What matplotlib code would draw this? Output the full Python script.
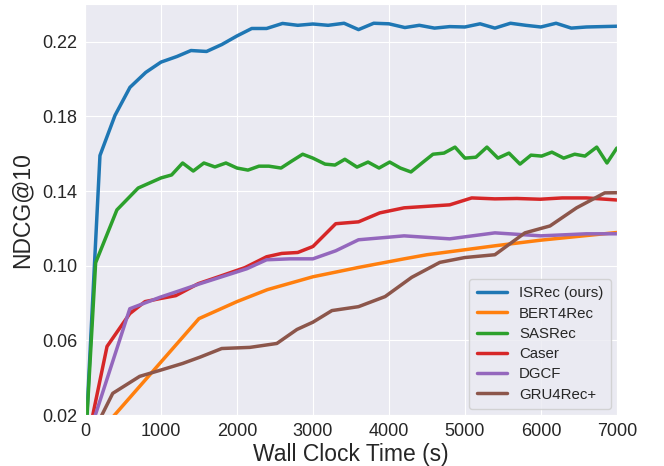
import numpy as np
import matplotlib
matplotlib.use('Agg')
import matplotlib.pyplot as plt
import seaborn as sns

# Tiempos (s) y NDCG@10 de cada modelo
isrec_t = [0, 197, 395, 592, 800, 1000, 1210, 1395, 1600, 1800, 2000, 2195,
           2390, 2600, 2800, 3000, 3200, 3410, 3600, 3800, 4000, 4210, 4400,
           4600, 4800, 5000, 5200, 5395, 5600, 5800, 6000, 6200, 6400, 6600,
           6800, 7000]
isrec_v = [0.0, 0.159, 0.1805, 0.1955, 0.2035, 0.209, 0.212, 0.2152, 0.2147,
           0.2184, 0.223, 0.227, 0.227, 0.2297, 0.2287, 0.2294, 0.2287,
           0.2298, 0.2264, 0.2298, 0.2295, 0.2275, 0.2287, 0.2272, 0.228,
           0.2278, 0.2295, 0.2272, 0.2298, 0.2287, 0.2278, 0.2298, 0.2272,
           0.2278, 0.228, 0.2282]

bert_t = [0, 1500, 2000, 2400, 3000, 3600, 4200, 4500, 5400, 6000, 7000]
bert_v = [0.002, 0.0717, 0.0808, 0.0872, 0.0941, 0.0991, 0.1037, 0.1059,
          0.1107, 0.1137, 0.1178]

sas_t = [0, 140, 420, 700, 1000, 1140, 1285, 1425, 1565, 1710, 1855, 2000,
         2145, 2290, 2420, 2580, 2720, 2865, 3000, 3160, 3290, 3420, 3580,
         3725, 3870, 4010, 4150, 4290, 4435, 4580, 4725, 4870, 5000, 5145,
         5290, 5435, 5580, 5725, 5870, 6010, 6145, 6300, 6445, 6580, 6735,
         6870, 7000]
sas_v = [0.0, 0.1016, 0.1299, 0.1416, 0.147, 0.1486, 0.155, 0.1507, 0.155,
         0.1529, 0.155, 0.1523, 0.1512, 0.1533, 0.1533, 0.1523, 0.156,
         0.1597, 0.1576, 0.1544, 0.1539, 0.157, 0.1528, 0.1555, 0.1523,
         0.1555, 0.1523, 0.1502, 0.155, 0.1597, 0.1603, 0.1635, 0.1576,
         0.1581, 0.1635, 0.1576, 0.1603, 0.1544, 0.1592, 0.1587, 0.1608,
         0.1576, 0.1597, 0.1587, 0.1635, 0.155, 0.163]

caser_t = [0, 290, 590, 790, 985, 1195, 1490, 1800, 2105, 2390, 2590, 2800,
           3000, 3300, 3600, 3880, 4200, 4800, 5090, 5395, 5685, 5990, 6280,
           6600, 7000]
caser_v = [0.0, 0.0568, 0.0744, 0.0808, 0.0824, 0.084, 0.0904, 0.0947,
           0.099, 0.1048, 0.1066, 0.1071, 0.1103, 0.1225, 0.1235, 0.1283,
           0.131, 0.1326, 0.1363, 0.1358, 0.136, 0.1356, 0.1363, 0.1363,
           0.1352]

dgcf_t = [0, 590, 985, 1250, 1515, 1800, 2130, 2390, 2700, 3000, 3300, 3600,
          4200, 4800, 5395, 6000, 6600, 7000]
dgcf_v = [0.003, 0.077, 0.0831, 0.0867, 0.0904, 0.0941, 0.0984, 0.1032,
          0.1037, 0.1037, 0.108, 0.1139, 0.116, 0.1144, 0.1176, 0.116,
          0.1171, 0.1171]

gru_t = [0, 365, 720, 985, 1285, 1515, 1800, 2170, 2525, 2790, 3000, 3250,
         3600, 3950, 4300, 4670, 5000, 5395, 5790, 6120, 6470, 6840, 7000]
gru_v = [0.002, 0.0317, 0.0408, 0.044, 0.0477, 0.0511, 0.0557, 0.0563,
         0.0584, 0.0659, 0.0698, 0.076, 0.0781, 0.0835, 0.0938, 0.1018,
         0.1044, 0.1059, 0.1176, 0.1213, 0.131, 0.139, 0.1391]

series = [('ISRec (ours)', isrec_t, isrec_v),
          ('BERT4Rec', bert_t, bert_v),
          ('SASRec', sas_t, sas_v),
          ('Caser', caser_t, caser_v),
          ('DGCF', dgcf_t, dgcf_v),
          ('GRU4Rec+', gru_t, gru_v)]
colores = ['#1f77b4', '#ff7f0e', '#2ca02c', '#d62728', '#9467bd', '#8c564b']

sns.set_style('darkgrid')
plt.rcParams['font.family'] = ['Liberation Sans', 'DejaVu Sans']

fig = plt.figure(figsize=(6.64, 4.66), dpi=100)
ax = fig.add_axes([0.128, 0.109, 0.801, 0.882])

for (nombre, t, v), c in zip(series, colores):
    ax.plot(t, v, color=c, lw=2.5, label=nombre)

ax.set_xlim(0, 7000)
ax.set_ylim(0.02, 0.24)
ax.set_xticks(np.arange(0, 7001, 1000))
ax.set_yticks([0.02, 0.06, 0.10, 0.14, 0.18, 0.22])
ax.set_yticklabels(['0.02', '0.06', '0.10', '0.14', '0.18', '0.22'])
ax.tick_params(labelsize=13, pad=2)
ax.set_xlabel('Wall Clock Time (s)', fontsize=16.5, labelpad=2)
ax.set_ylabel('NDCG@10', fontsize=16.5, labelpad=6)
ax.legend(loc='lower right', fontsize=10.8, frameon=True, labelspacing=0.42,
          borderpad=0.5, handlelength=2.0, handletextpad=0.8,
          borderaxespad=0.4)

fig.savefig('out.png', dpi=100)
